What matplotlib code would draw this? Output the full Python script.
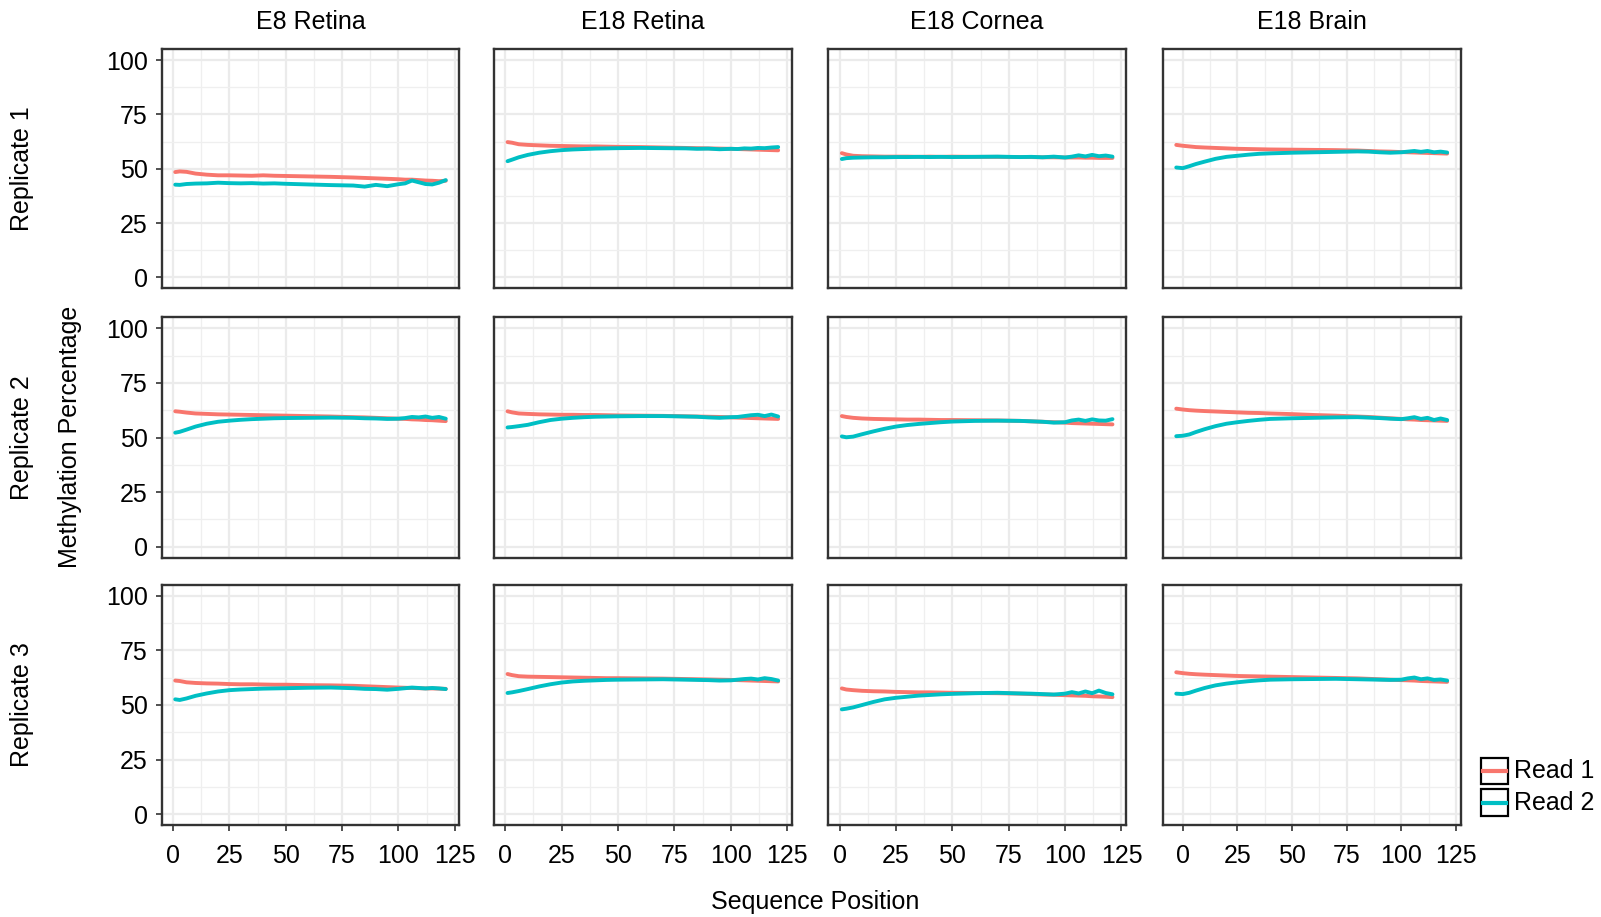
import numpy as np
import matplotlib
matplotlib.use('Agg')
import matplotlib.pyplot as plt
from matplotlib.patches import Rectangle
from matplotlib.lines import Line2D

plt.rcParams['font.family'] = ['Liberation Sans', 'DejaVu Sans']

tissues = ['E8 Retina', 'E18 Retina', 'E18 Cornea', 'E18 Brain']
replicates = ['Replicate 1', 'Replicate 2', 'Replicate 3']
reads = ['Read 1', 'Read 2']
read_colors = ['#F8766D', '#00BFC4']

# sequence positions (brain panels start a bit earlier)
pos = [1, 3, 6, 10, 15, 20, 25, 30, 35, 40, 45, 50, 60, 70, 80, 85, 90, 95,
       100, 103, 106, 109, 112, 115, 118, 121]
pos_brain = [-3, 0, 3, 6, 10, 15, 20, 25, 30, 35, 40, 50, 60, 70, 80, 85, 90, 95,
             100, 103, 106, 109, 112, 115, 118, 121]

# methylation %, one list per tissue (same order as tissues)
rep1_read1 = [
    [48.5, 48.8, 48.6, 47.8, 47.3, 47.0, 47.0, 46.9, 46.8, 47.0, 46.8, 46.7, 46.5,
     46.3, 46.0, 45.8, 45.6, 45.4, 45.2, 45.0, 45.0, 44.8, 44.6, 44.5, 44.3, 44.5],
    [62.3, 62.0, 61.3, 61.0, 60.8, 60.6, 60.5, 60.4, 60.3, 60.3, 60.2, 60.1, 60.0,
     59.8, 59.6, 59.5, 59.4, 59.3, 59.2, 59.1, 59.0, 58.9, 58.8, 58.7, 58.6, 58.5],
    [57.2, 56.6, 56.0, 55.8, 55.7, 55.6, 55.6, 55.6, 55.5, 55.6, 55.5, 55.6, 55.5,
     55.5, 55.4, 55.4, 55.3, 55.3, 55.2, 55.2, 55.2, 55.1, 55.1, 55.0, 55.0, 55.0],
    [61.0, 60.6, 60.3, 60.0, 59.8, 59.6, 59.4, 59.2, 59.1, 59.0, 58.9, 58.8, 58.7,
     58.6, 58.4, 58.2, 58.0, 57.9, 57.7, 57.6, 57.5, 57.4, 57.3, 57.2, 57.1, 57.0],
]
rep1_read2 = [
    [42.7, 42.6, 43.0, 43.2, 43.3, 43.6, 43.4, 43.3, 43.4, 43.2, 43.3, 43.1, 42.8,
     42.5, 42.3, 41.8, 42.6, 42.0, 42.9, 43.3, 44.6, 43.8, 43.0, 42.8, 43.6, 44.8],
    [53.5, 54.2, 55.3, 56.4, 57.4, 58.1, 58.6, 58.9, 59.1, 59.3, 59.4, 59.5, 59.6,
     59.5, 59.4, 59.2, 59.3, 59.0, 59.2, 59.1, 59.4, 59.3, 59.6, 59.5, 59.8, 60.0],
    [54.5, 54.9, 55.1, 55.2, 55.3, 55.3, 55.4, 55.4, 55.5, 55.4, 55.5, 55.4, 55.5,
     55.6, 55.4, 55.5, 55.3, 55.6, 55.2, 55.6, 56.2, 55.7, 56.4, 55.8, 56.1, 55.6],
    [50.6, 50.3, 51.2, 52.2, 53.3, 54.6, 55.5, 56.0, 56.5, 56.9, 57.1, 57.4, 57.6,
     57.8, 58.0, 57.9, 57.6, 57.4, 57.6, 57.9, 58.2, 57.8, 58.2, 57.6, 57.9, 57.5],
]
rep2_read1 = [
    [62.0, 61.8, 61.4, 61.0, 60.8, 60.6, 60.5, 60.4, 60.3, 60.2, 60.1, 60.0, 59.8,
     59.6, 59.3, 59.2, 59.0, 58.8, 58.6, 58.5, 58.3, 58.2, 58.0, 57.9, 57.7, 57.5],
    [62.0, 61.5, 61.0, 60.8, 60.6, 60.5, 60.4, 60.4, 60.3, 60.3, 60.2, 60.1, 60.0,
     59.9, 59.7, 59.6, 59.5, 59.4, 59.2, 59.1, 59.0, 58.9, 58.8, 58.7, 58.6, 58.5],
    [59.8, 59.4, 59.0, 58.7, 58.5, 58.4, 58.3, 58.2, 58.2, 58.1, 58.0, 58.0, 57.9,
     57.8, 57.6, 57.4, 57.2, 57.0, 56.8, 56.6, 56.5, 56.4, 56.3, 56.2, 56.1, 56.0],
    [63.2, 62.8, 62.5, 62.3, 62.1, 61.9, 61.7, 61.5, 61.3, 61.2, 61.0, 60.7, 60.3,
     60.0, 59.6, 59.4, 59.1, 58.8, 58.5, 58.3, 58.2, 58.0, 57.9, 57.8, 57.7, 57.6],
]
rep2_read2 = [
    [52.2, 52.6, 53.6, 55.0, 56.3, 57.2, 57.7, 58.1, 58.4, 58.6, 58.8, 58.9, 59.0,
     59.1, 59.0, 58.8, 58.7, 58.5, 58.6, 58.9, 59.4, 59.2, 59.6, 59.0, 59.4, 58.6],
    [54.6, 54.8, 55.2, 55.8, 57.0, 58.0, 58.6, 59.0, 59.3, 59.5, 59.6, 59.7, 59.8,
     59.8, 59.6, 59.5, 59.2, 59.0, 59.3, 59.4, 59.8, 60.2, 60.4, 59.8, 60.5, 59.6],
    [50.5, 50.1, 50.4, 51.5, 52.8, 54.0, 55.0, 55.7, 56.2, 56.6, 57.0, 57.3, 57.6,
     57.7, 57.6, 57.4, 57.2, 56.8, 57.0, 57.8, 58.2, 57.6, 58.3, 57.8, 57.7, 58.4],
    [50.6, 50.8, 51.4, 52.5, 53.8, 55.2, 56.3, 57.0, 57.6, 58.1, 58.5, 58.8, 59.0,
     59.2, 59.3, 59.1, 58.9, 58.6, 58.4, 58.8, 59.3, 58.5, 59.0, 58.0, 58.7, 58.0],
]
rep3_read1 = [
    [61.2, 61.0, 60.4, 60.1, 59.9, 59.8, 59.6, 59.5, 59.5, 59.4, 59.3, 59.3, 59.1,
     59.0, 58.8, 58.6, 58.4, 58.2, 58.0, 57.9, 57.8, 57.7, 57.6, 57.6, 57.5, 57.4],
    [64.2, 63.7, 63.2, 63.0, 62.9, 62.8, 62.7, 62.6, 62.5, 62.4, 62.3, 62.3, 62.2,
     62.1, 61.9, 61.8, 61.7, 61.6, 61.5, 61.4, 61.3, 61.2, 61.1, 61.0, 60.9, 60.8],
    [57.6, 57.1, 56.8, 56.5, 56.3, 56.2, 56.0, 55.9, 55.8, 55.8, 55.7, 55.6, 55.5,
     55.4, 55.2, 55.0, 54.8, 54.7, 54.5, 54.4, 54.3, 54.2, 54.0, 53.9, 53.8, 53.6],
    [65.0, 64.6, 64.3, 64.1, 63.9, 63.7, 63.5, 63.3, 63.2, 63.1, 63.0, 62.8, 62.6,
     62.4, 62.2, 62.0, 61.8, 61.6, 61.4, 61.3, 61.2, 61.0, 60.9, 60.8, 60.7, 60.6],
]
rep3_read2 = [
    [52.6, 52.3, 53.0, 54.2, 55.3, 56.2, 56.8, 57.1, 57.3, 57.5, 57.6, 57.7, 57.9,
     58.0, 57.7, 57.4, 57.3, 57.0, 57.4, 57.7, 58.0, 57.8, 57.6, 57.8, 57.6, 57.3],
    [55.5, 55.8, 56.4, 57.3, 58.5, 59.5, 60.3, 60.8, 61.1, 61.3, 61.5, 61.6, 61.7,
     61.8, 61.6, 61.5, 61.4, 61.2, 61.3, 61.6, 61.9, 62.1, 61.7, 62.3, 61.9, 61.2],
    [48.0, 48.3, 48.9, 50.0, 51.4, 52.6, 53.3, 53.8, 54.3, 54.6, 54.9, 55.1, 55.4,
     55.6, 55.3, 55.2, 55.0, 54.8, 55.2, 55.9, 55.3, 56.2, 55.4, 56.6, 55.5, 54.9],
    [55.2, 55.0, 55.6, 56.6, 57.8, 59.0, 59.8, 60.4, 60.9, 61.3, 61.6, 61.8, 61.9,
     62.0, 61.8, 61.7, 61.6, 61.5, 61.6, 62.2, 62.6, 61.8, 62.2, 61.5, 61.7, 61.2],
]

panel_data = [(rep1_read1, rep1_read2), (rep2_read1, rep2_read2), (rep3_read1, rep3_read2)]

W, H = 1601, 917
fig = plt.figure(figsize=(W / 100, H / 100), dpi=100)

col_edges = [(161.7, 459.3), (494, 791.7), (828.3, 1126), (1162.7, 1460.7)]
row_edges = [(49.3, 288.3), (317.3, 557.7), (585, 825)]
fs = 18
border = '#333333'

for i, (y0, y1) in enumerate(row_edges):
    for j, (x0, x1) in enumerate(col_edges):
        ax = fig.add_axes([x0 / W, 1 - y1 / H, (x1 - x0) / W, (y1 - y0) / H])
        xs = np.array(pos_brain if j == 3 else pos)
        r1 = panel_data[i][0][j]
        r2 = panel_data[i][1][j]
        ax.plot(xs, r1, color=read_colors[0], lw=2.8, solid_capstyle='round', zorder=3)
        ax.plot(xs, r2, color=read_colors[1], lw=2.8, solid_capstyle='round', zorder=4)

        span = xs.max() - xs.min()
        ax.set_xlim(xs.min() - 0.05 * span, xs.max() + 0.05 * span)
        ax.set_ylim(-5, 105)
        ax.set_xticks([0, 25, 50, 75, 100, 125])
        ax.set_xticks([12.5, 37.5, 62.5, 87.5, 112.5], minor=True)
        ax.set_yticks([0, 25, 50, 75, 100])
        ax.set_yticks([12.5, 37.5, 62.5, 87.5], minor=True)
        ax.grid(which='major', color='#EBEBEB', lw=1.6, zorder=0)
        ax.grid(which='minor', color='#EFEFEF', lw=0.9, zorder=0)
        ax.set_axisbelow(True)
        for s in ax.spines.values():
            s.set_color(border)
            s.set_linewidth(1.7)
        ax.tick_params(which='major', length=4, width=1.2, color=border,
                       labelsize=fs, labelcolor='black')
        ax.tick_params(axis='x', pad=9.5)
        ax.tick_params(axis='y', pad=6)
        ax.tick_params(which='minor', length=0)
        if j != 0:
            ax.tick_params(axis='y', left=False, labelleft=False)
        if i != 2:
            ax.tick_params(axis='x', bottom=False, labelbottom=False)
        if i == 0:
            ax.set_title(tissues[j], fontsize=fs, pad=14.5)
        if j == 0:
            fig.text(22.5 / W, 1 - (y0 + y1) / 2 / H, replicates[i], rotation=90,
                     ha='center', va='center', fontsize=fs)

fig.text(69.5 / W, 1 - 437 / H, 'Methylation Percentage', rotation=90,
         ha='center', va='center', fontsize=fs)
fig.text(815 / W, 1 - 902 / H, 'Sequence Position', ha='center', va='center', fontsize=fs)

# legend drawn in pixel space
lax = fig.add_axes([0, 0, 1, 1])
lax.set_xlim(0, W)
lax.set_ylim(H, 0)
lax.axis('off')
lax.patch.set_alpha(0)
for k, (lab, c) in enumerate(zip(reads, read_colors)):
    top = 757.7 + k * 31.6
    lax.add_patch(Rectangle((1480.5, top), 27, 26.5, fill=False, ec='black', lw=1.6))
    lax.add_line(Line2D([1483, 1505.5], [top + 13.25, top + 13.25], color=c, lw=3))
    lax.text(1514, top + 13.5, lab, ha='left', va='center', fontsize=fs)

fig.savefig('out.png', dpi=100)
